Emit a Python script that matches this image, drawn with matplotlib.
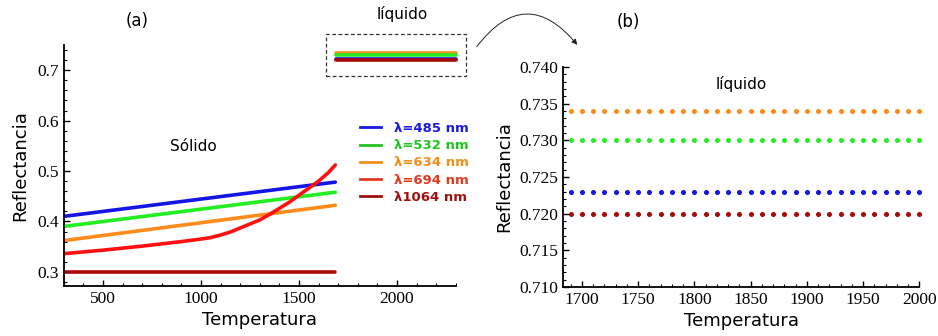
import matplotlib
matplotlib.use("Agg")
import matplotlib.pyplot as plt
from matplotlib.ticker import MultipleLocator
from matplotlib.patches import Rectangle, FancyArrowPatch
from matplotlib.lines import Line2D
from matplotlib import font_manager as fm

SERIF = fm.FontProperties(family=["Liberation Serif", "DejaVu Serif"], size=12.5)
SANS = ["DejaVu Sans"]

# ---------------- data ----------------
labels = ["λ=485 nm", "λ=532 nm", "λ=634 nm", "λ=694 nm", "λ1064 nm"]
line_colors = ["#1414e6", "#22ee22", "#ff8c1a", "#ff1010", "#aa0808"]
legend_colors = ["#1a1ae0", "#22c422", "#f0901a", "#e03a20", "#a01010"]

# solid phase (panel a)
T_solid = [300, 1685]
R485_solid = [0.410, 0.478]
R532_solid = [0.390, 0.458]
R634_solid = [0.362, 0.432]
R1064_solid = [0.300, 0.300]
T694 = [300, 500, 700, 900, 1000, 1050, 1100, 1150, 1200, 1250, 1300, 1350,
        1400, 1450, 1500, 1550, 1600, 1650, 1685]
R694 = [0.336, 0.343, 0.351, 0.360, 0.365, 0.368, 0.373, 0.379, 0.387, 0.395,
        0.403, 0.414, 0.426, 0.438, 0.452, 0.466, 0.480, 0.497, 0.512]

# liquid phase
T_liq_a = [1690, 2300]
R_liq = {"λ=634 nm": 0.734, "λ=532 nm": 0.730, "λ=485 nm": 0.723, "λ1064 nm": 0.720}
T_liq_b = list(range(1690, 2001, 10))

xticks_a = [500, 1000, 1500, 2000]
xtick_labels_a = ["500", "1000", "1500", "2000"]
yticks_a = [0.3, 0.4, 0.5, 0.6, 0.7]
ytick_labels_a = ["0.3", "0.4", "0.5", "0.6", "0.7"]
xticks_b = [1700, 1750, 1800, 1850, 1900, 1950, 2000]
xtick_labels_b = ["1700", "1750", "1800", "1850", "1900", "1950", "2000"]
yticks_b = [0.710, 0.715, 0.720, 0.725, 0.730, 0.735, 0.740]
ytick_labels_b = ["0.710", "0.715", "0.720", "0.725", "0.730", "0.735", "0.740"]

fig = plt.figure(figsize=(9.38, 3.36), dpi=100)

def style_axes(ax):
    for s in ["top", "right"]:
        ax.spines[s].set_visible(False)
    for s in ["left", "bottom"]:
        ax.spines[s].set_linewidth(1.3)
    ax.tick_params(which="both", direction="in", colors="black")
    ax.tick_params(which="major", length=4, width=1)
    ax.tick_params(which="minor", length=2, width=0.8)

# ---------------- panel (a) ----------------
axa = fig.add_axes([0.068, 0.149, 0.418, 0.717])
axa.plot(T_solid, R485_solid, color=line_colors[0], lw=2.6, solid_capstyle="round")
axa.plot(T_solid, R532_solid, color=line_colors[1], lw=2.6, solid_capstyle="round")
axa.plot(T_solid, R634_solid, color=line_colors[2], lw=2.6, solid_capstyle="round")
axa.plot(T694, R694, color=line_colors[3], lw=2.6, solid_capstyle="round")
axa.plot(T_solid, R1064_solid, color=line_colors[4], lw=2.6, solid_capstyle="round")

liq_order = [("λ=634 nm", line_colors[2]), ("λ=532 nm", line_colors[1]),
             ("λ=485 nm", line_colors[0]), ("λ1064 nm", line_colors[4])]
for name, c in liq_order:
    axa.plot(T_liq_a, [R_liq[name]] * 2, color=c, lw=2.6, solid_capstyle="round",
             clip_on=False)

axa.set_xlim(300, 2300)
axa.set_ylim(0.272, 0.75)
axa.set_xticks(xticks_a)
axa.set_xticklabels(xtick_labels_a, fontproperties=SERIF)
axa.xaxis.set_minor_locator(MultipleLocator(100))
axa.set_yticks(yticks_a)
axa.set_yticklabels(ytick_labels_a, fontproperties=SERIF)
axa.yaxis.set_minor_locator(MultipleLocator(0.02))
style_axes(axa)
axa.set_xlabel("Temperatura", fontsize=13, labelpad=3, family=SANS)
axa.set_ylabel("Reflectancia", fontsize=13, labelpad=6, family=SANS)
axa.text(0.33, 0.56, "Sólido", transform=axa.transAxes, fontsize=11, ha="center",
         family=SANS)

handles = [Line2D([0], [0], color=c, lw=2) for c in legend_colors]
leg = axa.legend(handles, labels, loc="upper left", bbox_to_anchor=(0.725, 0.73),
                 frameon=False, handlelength=1.6, handletextpad=1.0,
                 labelspacing=0.32, prop=dict(size=9.5, weight="bold", family=SANS))
for t, c in zip(leg.get_texts(), legend_colors):
    t.set_color(c)

# ---------------- panel (b) ----------------
axb = fig.add_axes([0.600, 0.146, 0.380, 0.655])
for name, c in liq_order:
    axb.plot(T_liq_b, [R_liq[name]] * len(T_liq_b), ls="none", marker="o",
             ms=2.6, color=c, clip_on=False)
axb.set_xlim(1683, 2000)
axb.set_ylim(0.710, 0.740)
axb.set_xticks(xticks_b)
axb.set_xticklabels(xtick_labels_b, fontproperties=SERIF)
axb.xaxis.set_minor_locator(MultipleLocator(10))
axb.set_yticks(yticks_b)
axb.set_yticklabels(ytick_labels_b, fontproperties=SERIF)
axb.yaxis.set_minor_locator(MultipleLocator(0.001))
style_axes(axb)
axb.set_xlabel("Temperatura", fontsize=13, labelpad=3, family=SANS)
axb.set_ylabel("Reflectancia", fontsize=13, labelpad=4, family=SANS)
axb.text(0.5, 0.9, "líquido", transform=axb.transAxes, fontsize=11, ha="center",
         family=SANS)

# ---------------- annotations ----------------
fig.text(137 / 938, 1 - 21 / 336, "(a)", fontsize=12, ha="center", va="center",
         family=SANS)
fig.text(628 / 938, 1 - 22 / 336, "(b)", fontsize=12, ha="center", va="center",
         family=SANS)
fig.text(402 / 938, 1 - 14 / 336, "líquido", fontsize=11, ha="center", va="center",
         family=SANS)

box = Rectangle((326 / 938, 1 - 76 / 336), 140 / 938, 42 / 336,
                transform=fig.transFigure, fill=False, ls=(0, (3, 2)),
                lw=0.9, edgecolor="#333333")
fig.add_artist(box)

arrow = FancyArrowPatch((475 / 938, 1 - 49 / 336), (579 / 938, 1 - 47 / 336),
                        transform=fig.transFigure, connectionstyle="arc3,rad=-0.65",
                        arrowstyle="-|>", mutation_scale=8, lw=0.7, color="#222222")
fig.add_artist(arrow)

fig.savefig("out.png", dpi=100)
